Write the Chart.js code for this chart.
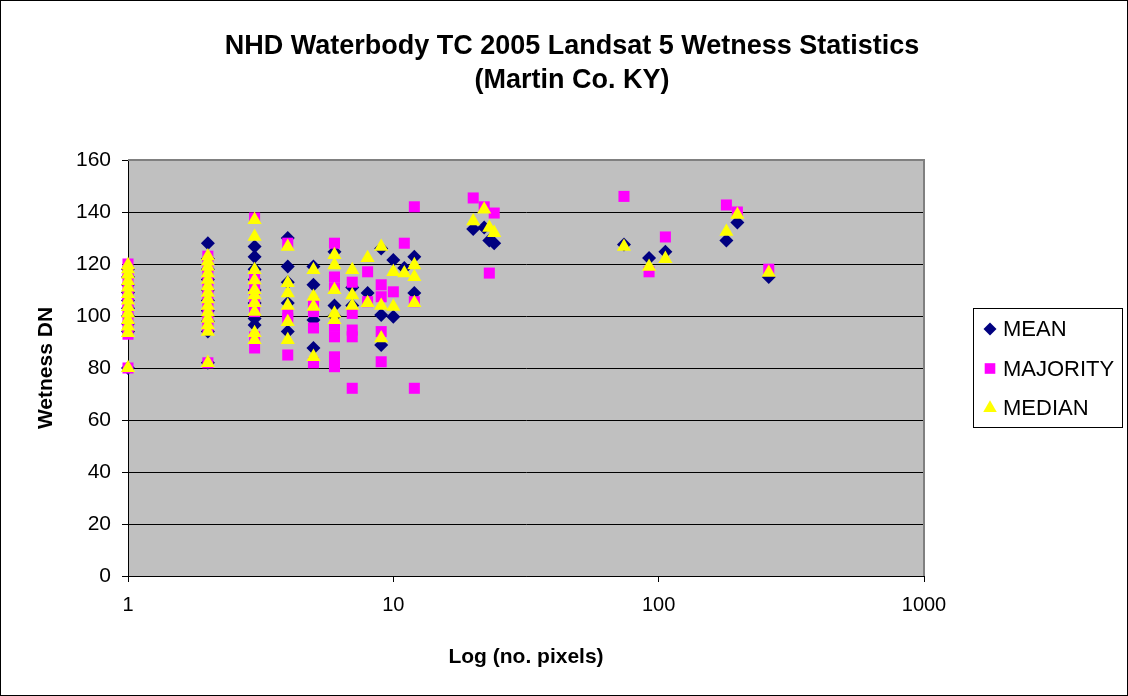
<!DOCTYPE html>
<html>
<head>
<meta charset="utf-8">
<script src="https://cdn.jsdelivr.net/npm/chart.js@4/dist/chart.umd.min.js"></script>
<style>
  html, body { margin: 0; padding: 0; background: #fff; }
  #wrap { position: relative; width: 1128px; height: 696px; box-sizing: border-box; border: 1px solid #000; }
  canvas { display: block; }
</style>
</head>
<body>
<div id="wrap"><canvas id="c" width="1126" height="694"></canvas></div>
<script>
// ---- Data ----
const titleLines = ["NHD Waterbody TC 2005 Landsat 5 Wetness Statistics", "(Martin Co. KY)"];
const xTitle = "Log (no. pixels)";
const yTitle = "Wetness DN";
const seriesNames = ["MEAN", "MAJORITY", "MEDIAN"];
const yTicks = [0, 20, 40, 60, 80, 100, 120, 140, 160];
const xTicks = [1, 10, 100, 1000];

const meanX = [1,1,1,1,1,1,1,1,1,1, 2,2,2,2,2,2,2,2,2,2, 3,3,3,3,3,3,3,3, 4,4,4,4,4, 5,5,5,5, 6,6,6, 7,7, 8, 9,9,9, 10,10, 11, 12,12, 20, 22,23, 24, 74, 92, 106, 180, 198, 260];
const meanY = [80,94,97,100,103,106,109,112,115,118, 82,94,98,102,106,110,114,118,122,128, 96.5,99,105,110,114,118,122.8,126.7, 94,105,113,119,130, 87.7,98.5,112,119, 104,124.7,100, 111,104, 108.8, 126,100.4,88.8, 121.5,99.7, 118.5, 122.8,108.8, 133.5, 134,129, 128, 127.5, 122.3, 124.7, 129, 136, 115];

const majX = [1,1,1,1,1,1,1,1,1,1,1, 2,2,2,2,2,2,2,2,2, 3,3,3,3,3,3,3, 4,4,4,4, 5,5,5,5, 6,6,6,6,6,6,6, 7,7,7,7,7, 8,8, 9,9,9,9, 10, 11, 12,12,12, 20, 22,23, 24, 74, 92, 106, 180, 198, 260];
const majY = [80,93,96,99,102,105,108,111,114,117,120, 82,95,99,103,107,111,115,119,123, 87.7,92,101.7,105,110,114,137.7, 85,99,101,128, 82,95.4,101.7,105, 80.5,84.3,92,96,110.8,115,128, 72.2,92,94.6,101,113, 105.5,117, 82.4,94,107.4,112, 109.3, 128, 72.2,105.5,142, 145.4, 142,116.5, 139.6, 146, 117, 130.4, 142.7, 140, 118];

const medX = [1,1,1,1,1,1,1,1,1,1,1,1,1, 2,2,2,2,2,2,2,2,2,2,2,2,2,2, 3,3,3,3,3,3,3,3,3,3, 4,4,4,4,4,4, 5,5,5,5, 6,6,6,6,6, 7,7,7, 8,8, 9,9,9, 10,10, 11, 12,12,12, 20, 22,23, 24, 74, 92, 106, 180, 198, 260];
const medY = [80,93.5,96,98.5,101,103.5,106,108.5,111,113.5,116,118,119.6, 82,94,96.5,99,101.5,104,106.5,109,111.5,114,116.5,119,121,123, 90.8,93.5,101.7,105,108,110,113.8,117.7,130.5,137, 90.8,97.7,104,108.8,112.7,126.7, 84.3,103.6,107.4,117.7, 98.5,101,110,119.6,123.5, 104,108,117.7, 105,122.3, 91.5,104,126.7, 103.6,117, 116.5, 105,115,119.6, 136.5, 141,134, 132, 126.7, 119, 122, 132.4, 139, 116.7];

const toPts = (xs, ys) => xs.map((x, i) => ({ x: x, y: ys[i] }));

const colors = ["#000080", "#FF00FF", "#FFFF00"];
const styles = ["rectRot", "rect", "triangle"];
const radii = [7, 7.8, 8.2];

const FONT = "'Liberation Sans', Arial, sans-serif";

const customPlugin = {
  id: 'customText',
  beforeDraw(chart) {
    const ctx = chart.ctx;
    const a = chart.chartArea;
    ctx.save();
    ctx.fillStyle = '#C0C0C0';
    ctx.fillRect(a.left, a.top, a.right - a.left, a.bottom - a.top);
    ctx.restore();
  },
  afterDraw(chart) {
    const ctx = chart.ctx;
    const a = chart.chartArea;
    ctx.save();
    // plot border (gray top/right)
    ctx.strokeStyle = '#808080';
    ctx.lineWidth = 2;
    ctx.beginPath();
    ctx.moveTo(a.left, a.top);
    ctx.lineTo(a.right, a.top);
    ctx.lineTo(a.right, a.bottom);
    ctx.stroke();
    // title
    ctx.fillStyle = '#000';
    ctx.font = "bold 27px " + FONT;
    ctx.textAlign = 'center';
    ctx.textBaseline = 'middle';
    ctx.fillText(titleLines[0], 571, 46);
    ctx.fillText(titleLines[1], 571, 80);
    // legend
    const lx = 972, ly = 307, lw = 149, lh = 119;
    ctx.fillStyle = '#fff';
    ctx.fillRect(lx, ly, lw, lh);
    ctx.strokeStyle = '#000';
    ctx.lineWidth = 1;
    ctx.strokeRect(lx + 0.5, ly + 0.5, lw, lh);
    ctx.font = "22px " + FONT;
    ctx.textAlign = 'left';
    const legR = [6.5, 7.5, 7.8];
    seriesNames.forEach((name, i) => {
      const cy = ly + 21 + i * 39.5;
      ctx.fillStyle = colors[i];
      ctx.strokeStyle = colors[i];
      Chart.helpers.drawPoint(ctx, {pointStyle: styles[i], radius: legR[i], rotation: 0, borderWidth: 0}, lx + 17, cy);
      ctx.fillStyle = '#000';
      ctx.fillText(name, lx + 30, cy + 1);
    });
    ctx.restore();
  }
};

const datasets = [
  { label: seriesNames[0], data: toPts(meanX, meanY), order: 3 },
  { label: seriesNames[1], data: toPts(majX, majY), order: 2 },
  { label: seriesNames[2], data: toPts(medX, medY), order: 1 }
].map((d, i) => Object.assign(d, {
  pointStyle: styles[i],
  pointRadius: radii[i],
  pointHoverRadius: radii[i],
  backgroundColor: colors[i],
  borderColor: colors[i],
  borderWidth: 0,
  showLine: false,
  clip: false
}));

new Chart(document.getElementById('c'), {
  type: 'scatter',
  data: { datasets },
  options: {
    responsive: false,
    animation: false,
    events: [],
    layout: { padding: { top: 159, right: 203, left: 0, bottom: 0 } },
    plugins: { legend: { display: false }, title: { display: false }, tooltip: { enabled: false } },
    scales: {
      x: {
        type: 'logarithmic',
        min: 1, max: 1000,
        afterBuildTicks: s => { s.ticks = xTicks.map(v => ({ value: v })); },
        afterFit: s => { s.height = 119; },
        grid: { display: true, drawOnChartArea: false, color: '#000', tickLength: 6, lineWidth: 1 },
        border: { display: true, color: '#000', width: 1 },
        ticks: { color: '#000', font: { family: FONT, size: 20 }, padding: 11, maxRotation: 0,
                 callback: v => String(v) },
        title: { display: true, text: xTitle, color: '#000', font: { family: FONT, size: 21, weight: 'bold' }, padding: { top: 0, bottom: 25 } }
      },
      y: {
        min: 0, max: 160,
        afterBuildTicks: s => { s.ticks = yTicks.map(v => ({ value: v })); },
        afterFit: s => { s.width = 127; },
        grid: { color: '#000', tickLength: 6, lineWidth: 1 },
        border: { display: true, color: '#000', width: 1 },
        ticks: { color: '#000', font: { family: FONT, size: 21 }, padding: 11 },
        title: { display: true, text: yTitle, color: '#000', font: { family: FONT, size: 21, weight: 'bold' }, padding: { top: 33, bottom: 0 } }
      }
    }
  },
  plugins: [customPlugin]
});
</script>
</body>
</html>
